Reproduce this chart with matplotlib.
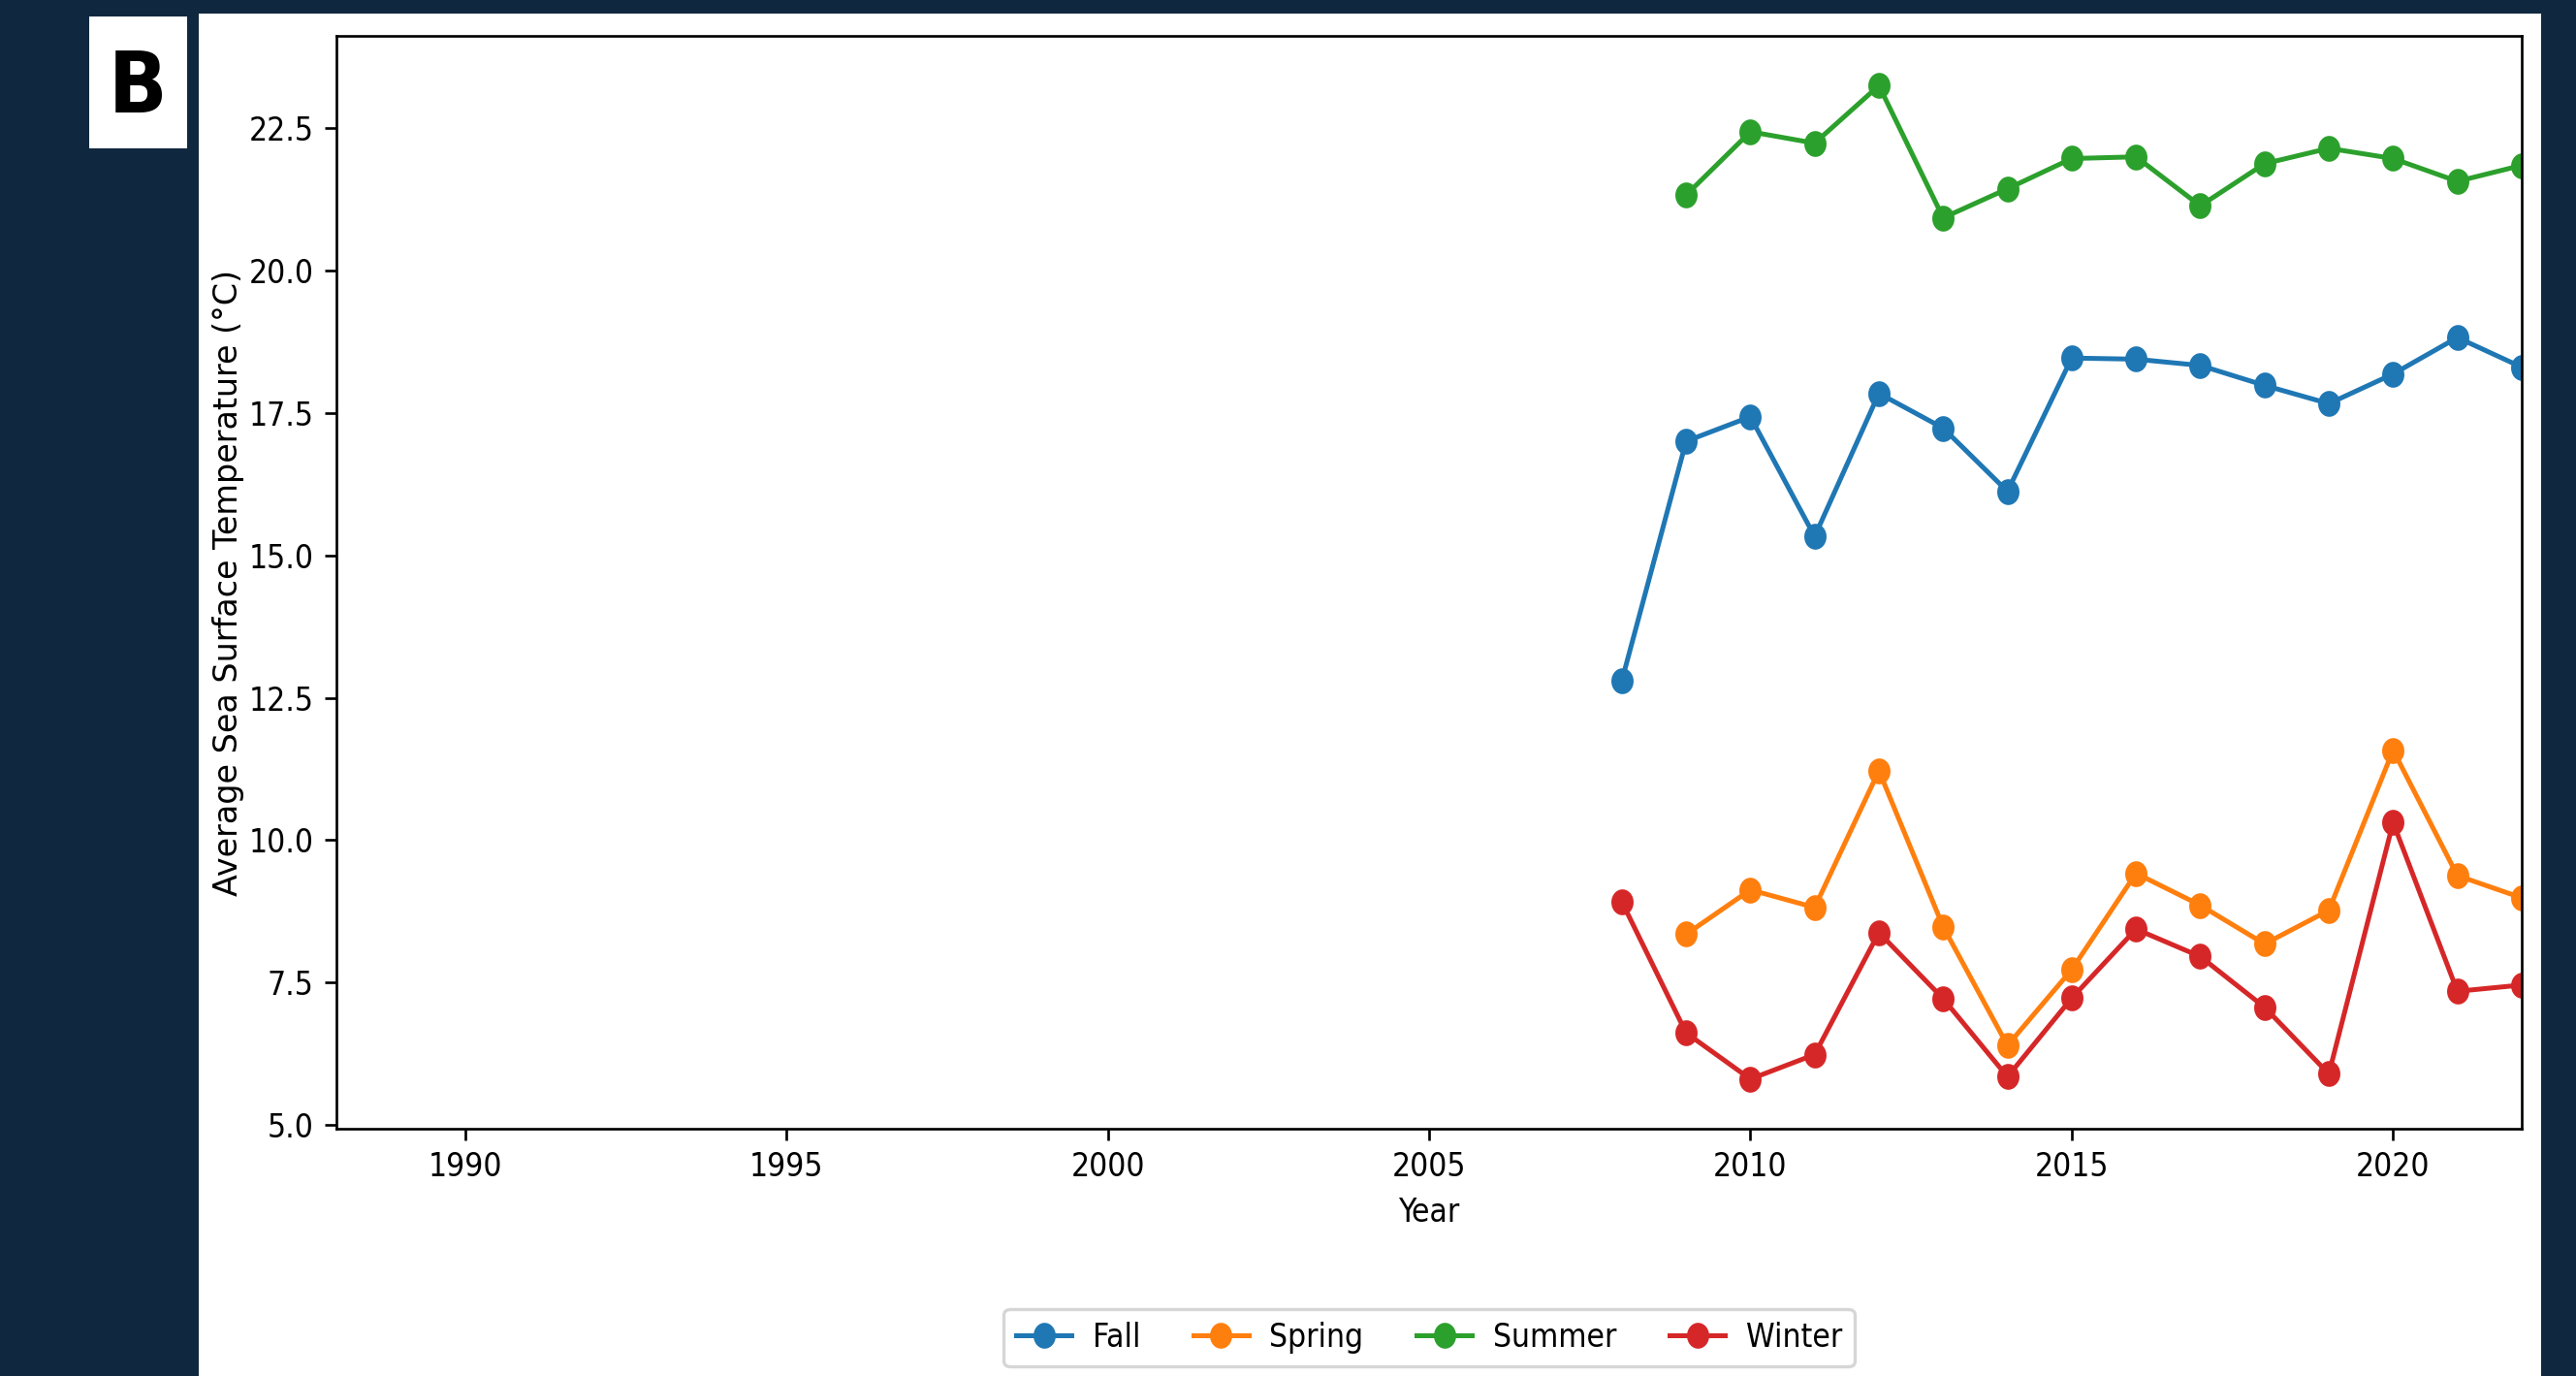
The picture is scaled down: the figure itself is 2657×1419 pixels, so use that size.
import numpy as np
import matplotlib
matplotlib.use('Agg')
import matplotlib.pyplot as plt
from matplotlib.path import Path
from matplotlib.patches import Rectangle

# Average sea surface temperature by season
years_fall = [2008, 2009, 2010, 2011, 2012, 2013, 2014, 2015, 2016, 2017, 2018, 2019, 2020, 2021, 2022]
fall = [12.80, 17.00, 17.43, 15.33, 17.84, 17.23, 16.12, 18.46, 18.44, 18.33, 17.98, 17.66, 18.18, 18.82, 18.30]

years_spring = [2009, 2010, 2011, 2012, 2013, 2014, 2015, 2016, 2017, 2018, 2019, 2020, 2021, 2022]
spring = [8.35, 9.13, 8.82, 11.22, 8.48, 6.40, 7.73, 9.42, 8.86, 8.18, 8.77, 11.58, 9.38, 8.99]

years_summer = [2009, 2010, 2011, 2012, 2013, 2014, 2015, 2016, 2017, 2018, 2019, 2020, 2021, 2022]
summer = [21.32, 22.43, 22.23, 23.24, 20.92, 21.43, 21.96, 21.99, 21.13, 21.87, 22.14, 21.96, 21.56, 21.84]

years_winter = [2008, 2009, 2010, 2011, 2012, 2013, 2014, 2015, 2016, 2017, 2018, 2019, 2020, 2021, 2022]
winter = [8.92, 6.62, 5.81, 6.24, 8.38, 7.22, 5.85, 7.23, 8.44, 7.96, 7.07, 5.90, 10.31, 7.35, 7.46]

seasons = ['Fall', 'Spring', 'Summer', 'Winter']
colors = ['#1f77b4', '#ff7f0e', '#2ca02c', '#d62728']

plt.rcParams['font.family'] = ['DejaVu Sans']
plt.rcParams['font.stretch'] = 'condensed'

# slightly narrow ellipse marker, the reference image is squeezed sideways
t = np.linspace(0, 2 * np.pi, 41)
ellipse = Path(np.column_stack([0.84 * np.cos(t), np.sin(t)]), closed=True)

fig = plt.figure(figsize=(2657 / 240, 1419 / 240), dpi=240)
fig.patch.set_facecolor('#10283f')

# white panel behind the chart and the "B" label box
fig.patches.append(Rectangle((0.0772, 0.0), 0.9093, 0.9901, transform=fig.transFigure,
                             facecolor='white', edgecolor='none', zorder=-2))
fig.patches.append(Rectangle((0.0346, 0.8922), 0.0380, 0.0958, transform=fig.transFigure,
                             facecolor='white', edgecolor='none', zorder=-2))
fig.text(0.0536, 0.9355, 'B', fontsize=26.5, fontweight='bold', ha='center', va='center')

ax = fig.add_axes([0.1306, 0.1797, 0.8483, 0.7942])
ax.set_facecolor('white')

data = [(years_fall, fall), (years_spring, spring), (years_summer, summer), (years_winter, winter)]
for (yrs, vals), name, c in zip(data, seasons, colors):
    ax.plot(yrs, vals, marker=ellipse, markersize=7, linewidth=1.5, color=c, label=name)

ax.set_xlim(1988, 2022)
ax.set_xticks([1990, 1995, 2000, 2005, 2010, 2015, 2020])
ax.set_xlabel('Year')
# the y label is not squeezed along its length in the reference
ax.set_ylabel('Average Sea Surface Temperature (°C)', fontstretch='normal', labelpad=1.5)

ax.legend(loc='upper center', bbox_to_anchor=(0.5, -0.150), ncol=4, fontsize=10,
          handlelength=1.7, handletextpad=0.65, columnspacing=1.65)

fig.savefig('out.png', dpi=240, facecolor=fig.get_facecolor())
